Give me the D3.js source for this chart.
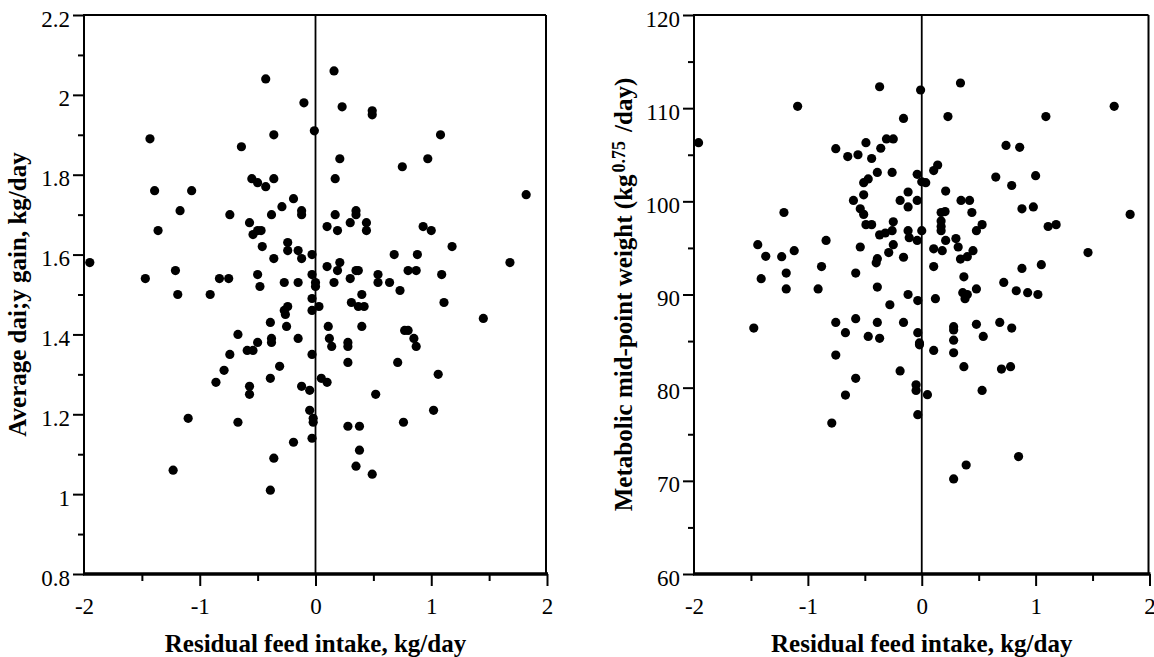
<!DOCTYPE html>
<html>
<head>
<meta charset="utf-8">
<script src="https://cdn.jsdelivr.net/npm/d3@7"></script>
<style>
  body { margin: 0; background: #fff; }
  svg text { font-family: 'Liberation Serif', 'Times New Roman', serif; fill: #000; }
</style>
</head>
<body>
<svg id="chart" width="1154" height="657"></svg>
<script>
// residual feed intake vs average daily gain (left panel)
const adgRfi = [-1.95,-1.43,-1.39,-1.36,-1.47,-1.21,-1.19,-1.17,-1.07,-0.91,
  -0.83,-0.75,-0.74,-0.64,-0.57,-0.54,-0.55,-0.50,-0.43,-0.43,
  -0.36,-0.36,-0.50,-0.47,-0.46,-0.50,-0.48,-0.38,-0.36,-0.29,
  -0.19,-0.12,-0.12,-0.10,-0.01,-0.24,-0.24,-0.15,-0.12,-0.03,
  -0.27,-0.15,-0.03,0.00,0.00,-0.03,-0.03,0.03,-0.27,-0.24,
  -0.26,-0.39,-0.25,0.10,0.10,0.11,0.16,0.23,0.49,0.49,
  1.08,0.21,0.97,0.75,0.17,1.82,0.17,0.35,0.35,0.30,
  0.44,0.44,0.19,0.93,1.00,1.18,0.68,0.88,1.68,0.21,
  0.19,0.35,0.37,0.80,0.87,0.30,0.16,0.54,0.54,0.64,
  0.73,1.09,1.11,0.40,0.31,0.37,0.42,1.45,0.40,-0.67,
  -0.74,-0.79,-0.86,-0.59,-0.54,-0.50,-0.38,-0.38,-0.31,-0.15,
  -0.03,-0.57,-0.57,-0.39,-0.12,-0.05,0.05,0.10,-0.05,-0.02,
  -0.02,-0.67,-1.10,-0.19,-0.03,-0.36,-1.23,-0.39,0.12,0.14,
  0.28,0.28,0.28,0.71,0.77,0.80,0.85,0.87,1.06,1.02,
  0.52,0.76,0.28,0.38,0.38,0.35,0.49]
const adg = [1.58,1.89,1.76,1.66,1.54,1.56,1.50,1.71,1.76,1.50,
  1.54,1.54,1.70,1.87,1.68,1.65,1.79,1.78,1.77,2.04,
  1.90,1.79,1.66,1.66,1.62,1.55,1.52,1.70,1.59,1.72,
  1.74,1.71,1.70,1.98,1.91,1.63,1.61,1.61,1.59,1.60,
  1.53,1.53,1.55,1.53,1.52,1.49,1.46,1.47,1.46,1.47,
  1.45,1.43,1.42,1.67,1.57,1.42,2.06,1.97,1.96,1.95,
  1.90,1.84,1.84,1.82,1.79,1.75,1.70,1.71,1.70,1.68,
  1.68,1.66,1.66,1.67,1.66,1.62,1.60,1.60,1.58,1.58,
  1.56,1.56,1.56,1.56,1.56,1.54,1.53,1.55,1.53,1.53,
  1.51,1.55,1.48,1.50,1.48,1.47,1.47,1.44,1.42,1.40,
  1.35,1.31,1.28,1.36,1.36,1.38,1.39,1.38,1.32,1.39,
  1.35,1.27,1.25,1.29,1.27,1.26,1.29,1.28,1.21,1.19,
  1.18,1.18,1.19,1.13,1.14,1.09,1.06,1.01,1.39,1.37,
  1.38,1.37,1.33,1.33,1.41,1.41,1.39,1.37,1.30,1.21,
  1.25,1.18,1.17,1.17,1.11,1.07,1.05]

// residual feed intake vs metabolic mid-point weight (right panel)
const mmwRfi = [-1.96,-1.09,-0.37,-0.755,-0.65,-0.56,-0.49,-0.44,-0.36,-0.31,
  -0.25,-0.39,-0.51,-0.47,-0.51,-0.60,-0.54,-0.51,-0.49,-0.44,
  -0.37,-0.32,-1.21,-0.84,-0.54,-1.44,-1.37,-1.23,-1.12,-0.39,
  -0.40,-0.29,-0.88,-1.41,-1.19,-0.58,-1.19,-0.91,-0.39,-0.28,
  -1.475,-0.755,-0.58,-0.39,-0.67,-0.47,-0.37,-0.755,-0.58,-0.67,
  -0.79,-0.01,0.34,-0.16,0.23,1.09,1.69,0.74,0.86,0.14,
  0.105,0.65,1.0,0.79,-0.26,-0.04,0.0,0.035,0.21,-0.12,
  -0.19,-0.12,-0.04,0.345,0.42,0.44,0.88,0.98,1.83,0.17,
  0.17,0.17,0.17,0.205,0.53,0.48,1.11,1.18,-0.25,-0.26,
  -0.12,0.0,-0.11,-0.04,0.21,0.30,0.32,0.105,0.18,-0.25,
  -0.16,0.45,0.40,0.34,1.46,0.105,0.37,0.88,1.05,0.72,
  0.83,0.93,1.02,-0.12,-0.035,0.12,0.36,0.38,0.40,0.48,
  -0.16,0.28,0.28,0.48,0.685,0.79,-0.035,-0.02,-0.02,0.105,
  0.28,0.28,0.54,0.37,0.70,0.78,-0.19,-0.05,-0.05,0.05,
  0.53,-0.035,0.85,0.39,0.28]
const mmw = [106.3,110.2,112.3,105.65,104.8,105.0,106.3,104.6,105.7,106.7,
  106.7,103.1,102.0,102.4,100.7,100.1,99.2,98.6,97.5,97.5,
  96.4,96.6,98.8,95.8,95.1,95.35,94.1,94.06,94.7,93.84,
  93.4,94.5,93.0,91.7,92.3,92.3,90.6,90.6,90.8,88.9,
  86.4,87.0,87.4,87.0,85.9,85.5,85.3,83.5,81.0,79.2,
  76.2,111.95,112.7,108.9,109.1,109.1,110.2,106.0,105.8,103.9,
  103.3,102.6,102.75,101.7,103.1,102.9,102.1,102.0,101.1,101.0,
  100.1,99.4,100.1,100.1,100.1,98.8,99.2,99.4,98.6,98.8,
  97.9,97.3,96.85,98.9,97.5,96.85,97.3,97.5,97.8,96.85,
  96.85,96.85,96.1,95.8,95.8,96.0,95.1,94.9,94.7,95.35,
  94.0,94.7,94.06,93.8,94.5,93.0,91.9,92.8,93.2,91.3,
  90.4,90.2,90.0,90.0,89.35,89.55,90.2,89.55,90.0,90.6,
  87.0,86.55,86.2,86.8,87.0,86.4,85.9,84.8,84.6,84.0,
  85.1,83.75,85.5,82.25,82.0,82.25,81.8,80.3,79.7,79.25,
  79.7,77.1,72.6,71.7,70.2]

const xTicks = [-2, -1, 0, 1, 2]
const xMinor = [-1.5, -0.5, 0.5, 1.5]
const adgTicks = [0.8, 1, 1.2, 1.4, 1.6, 1.8, 2, 2.2]
const adgMinor = [0.9, 1.1, 1.3, 1.5, 1.7, 1.9, 2.1]
const mmwTicks = [60, 70, 80, 90, 100, 110, 120]
const mmwMinor = [65, 75, 85, 95, 105, 115]

const xTitle = 'Residual feed intake, kg/day'

const svg = d3.select('#chart')
const plotTop = 15, plotBottom = 574

function panel(cfg) {
  const x = d3.scaleLinear().domain([-2, 2]).range([cfg.left, cfg.right])
  const y = d3.scaleLinear()
    .domain([cfg.yTicks[0], cfg.yTicks[cfg.yTicks.length - 1]])
    .range([plotBottom, plotTop])
  const g = svg.append('g')

  // frame: top, right, zero line
  g.append('line').attr('x1', cfg.left).attr('x2', cfg.right - 1).attr('y1', plotTop).attr('y2', plotTop)
    .attr('stroke', '#000').attr('stroke-width', 2)
  g.append('line').attr('x1', cfg.right - 1).attr('x2', cfg.right - 1).attr('y1', plotTop).attr('y2', plotBottom)
    .attr('stroke', '#000').attr('stroke-width', 2)
  g.append('line').attr('x1', x(0)).attr('x2', x(0)).attr('y1', plotTop).attr('y2', plotBottom)
    .attr('stroke', '#000').attr('stroke-width', 1.8)

  g.selectAll('circle')
    .data(d3.zip(cfg.xs, cfg.ys))
    .join('circle')
    .attr('cx', (d) => x(d[0]))
    .attr('cy', (d) => y(d[1]))
    .attr('r', 4.6)
    .attr('fill', '#000')

  // y axis
  const yMajor = d3.axisLeft(y).tickValues(cfg.yTicks).tickSize(11).tickPadding(3).tickFormat((d) => d)
  const yMin = d3.axisLeft(y).tickValues(cfg.yMinor).tickSize(6).tickFormat('')
  const ga = g.append('g').attr('transform', `translate(${cfg.left},0)`).call(yMajor)
  const gb = g.append('g').attr('transform', `translate(${cfg.left},0)`).call(yMin)
  ;[ga, gb].forEach((a) => {
    a.select('.domain').remove()
    a.selectAll('line').attr('stroke-width', 2)
  })
  ga.selectAll('text').attr('font-size', 23).attr('dy', '0.48em')
    .style('font-family', "'Liberation Serif', serif")

  // x axis
  const xMajor = d3.axisBottom(x).tickValues(xTicks).tickSize(12).tickFormat((d) => d)
  const xMin = d3.axisBottom(x).tickValues(xMinor).tickSize(7).tickFormat('')
  const gc = g.append('g').attr('transform', `translate(0,${plotBottom})`).call(xMajor)
  const gd = g.append('g').attr('transform', `translate(0,${plotBottom})`).call(xMin)
  ;[gc, gd].forEach((a) => {
    a.select('.domain').remove()
    a.selectAll('line').attr('stroke-width', 2)
  })
  gc.selectAll('.tick').filter((d) => d === -2).select('line').remove()
  gc.selectAll('text').attr('font-size', 23).attr('y', 40).attr('dy', 0)
    .style('font-family', "'Liberation Serif', serif")

  // axis lines
  g.append('line').attr('x1', cfg.left).attr('x2', cfg.left).attr('y1', plotTop - 1).attr('y2', plotBottom)
    .attr('stroke', '#000').attr('stroke-width', 2)
  g.append('line').attr('x1', cfg.left - 1).attr('x2', cfg.right + 1).attr('y1', plotBottom).attr('y2', plotBottom)
    .attr('stroke', '#000').attr('stroke-width', 3.5)

  // titles
  g.append('text')
    .attr('x', (cfg.left + cfg.right) / 2)
    .attr('y', 652)
    .attr('text-anchor', 'middle')
    .attr('font-size', 25)
    .attr('font-weight', 'bold')
    .text(xTitle)

  const yt = g.append('text')
    .attr('transform', `translate(${cfg.titleX},${(plotTop + plotBottom) / 2}) rotate(-90)`)
    .attr('text-anchor', 'middle')
    .attr('font-size', 25)
    .attr('font-weight', 'bold')
  cfg.yTitle(yt)
}

panel({
  left: 84, right: 547,
  xs: adgRfi, ys: adg,
  yTicks: adgTicks, yMinor: adgMinor,
  titleX: 26,
  yTitle: (t) => t.text('Average dai;y gain, kg/day')
})

panel({
  left: 694, right: 1149.5,
  xs: mmwRfi, ys: mmw,
  yTicks: mmwTicks, yMinor: mmwMinor,
  titleX: 632,
  yTitle: (t) => {
    t.append('tspan').text('Metabolic mid-point weight (kg')
    t.append('tspan').attr('dx', 2).attr('dy', -7).attr('font-size', 18).text('0.75')
    t.append('tspan').attr('dx', 9).attr('dy', 7).text('/day)')
  }
})
</script>
</body>
</html>
